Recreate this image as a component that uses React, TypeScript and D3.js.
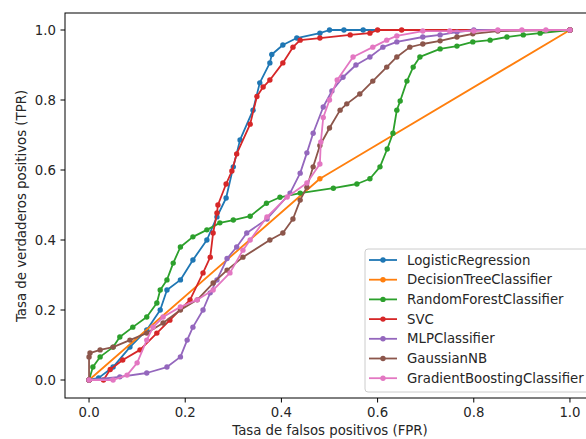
import * as d3 from 'd3';

// ROC points [fpr, tpr]
const logisticRegression: [number, number][] = [
  [0, 0], [0.02, 0.006], [0.05, 0.037], [0.085, 0.094], [0.12, 0.143], [0.148, 0.2],
  [0.162, 0.257], [0.19, 0.286], [0.216, 0.343], [0.245, 0.4], [0.266, 0.466], [0.285, 0.52],
  [0.3, 0.609], [0.314, 0.686], [0.341, 0.771], [0.355, 0.849], [0.376, 0.906], [0.38, 0.93],
  [0.403, 0.957], [0.432, 0.977], [0.48, 0.991], [0.5, 1.0], [0.53, 1.0], [0.57, 1.0], [1, 1],
];
const decisionTree: [number, number][] = [[0, 0], [0.48, 0.575], [1, 1]];
const randomForest: [number, number][] = [
  [0, 0], [0.008, 0.037], [0.023, 0.066], [0.05, 0.094], [0.064, 0.123], [0.091, 0.151],
  [0.12, 0.18], [0.141, 0.22], [0.148, 0.257], [0.162, 0.286], [0.175, 0.334], [0.19, 0.38],
  [0.216, 0.409], [0.245, 0.429], [0.272, 0.449], [0.3, 0.457], [0.335, 0.468], [0.369, 0.505],
  [0.397, 0.522], [0.439, 0.534], [0.508, 0.548], [0.557, 0.56], [0.584, 0.575], [0.605, 0.609],
  [0.62, 0.66], [0.632, 0.705], [0.64, 0.771], [0.647, 0.797], [0.661, 0.854], [0.674, 0.894],
  [0.688, 0.923], [0.73, 0.946], [0.765, 0.954], [0.798, 0.966], [0.834, 0.971], [0.869, 0.98],
  [0.903, 0.986], [0.938, 0.991], [1, 1],
];
const svc: [number, number][] = [
  [0, 0], [0.03, 0.0], [0.044, 0.03], [0.07, 0.057], [0.106, 0.086], [0.141, 0.134],
  [0.168, 0.171], [0.21, 0.229], [0.237, 0.306], [0.252, 0.351], [0.258, 0.42], [0.266, 0.477],
  [0.268, 0.5], [0.285, 0.56], [0.297, 0.597], [0.307, 0.646], [0.335, 0.731], [0.349, 0.81],
  [0.362, 0.837], [0.376, 0.857], [0.403, 0.906], [0.424, 0.951], [0.439, 0.971], [0.48, 0.977],
  [0.543, 0.986], [0.584, 0.991], [0.6, 1.0], [0.65, 1.0], [1, 1],
];
const mlp: [number, number][] = [
  [0, 0], [0.064, 0.009], [0.12, 0.02], [0.162, 0.037], [0.19, 0.066], [0.204, 0.114],
  [0.216, 0.151], [0.237, 0.2], [0.252, 0.249], [0.266, 0.286], [0.287, 0.347], [0.307, 0.38],
  [0.328, 0.42], [0.37, 0.46], [0.418, 0.534], [0.439, 0.591], [0.453, 0.649], [0.466, 0.705],
  [0.487, 0.78], [0.505, 0.826], [0.528, 0.865], [0.555, 0.9], [0.584, 0.923], [0.611, 0.951],
  [0.64, 0.966], [0.694, 0.98], [0.73, 0.986], [0.765, 0.994], [0.8, 1.0], [1, 1],
];
const gaussianNB: [number, number][] = [
  [0, 0], [0, 0.066], [0.002, 0.077], [0.023, 0.086], [0.05, 0.094], [0.085, 0.114],
  [0.12, 0.134], [0.154, 0.163], [0.19, 0.2], [0.225, 0.229], [0.258, 0.277], [0.287, 0.314],
  [0.32, 0.351], [0.376, 0.4], [0.403, 0.42], [0.424, 0.46], [0.439, 0.514], [0.453, 0.551],
  [0.466, 0.609], [0.48, 0.67], [0.5, 0.72], [0.522, 0.771], [0.536, 0.789], [0.563, 0.817],
  [0.59, 0.854], [0.619, 0.894], [0.64, 0.923], [0.667, 0.951], [0.694, 0.96], [0.73, 0.969],
  [0.765, 0.98], [0.798, 0.989], [0.85, 0.997], [1, 1],
];
const gradientBoosting: [number, number][] = [
  [0, 0], [0.05, 0], [0.079, 0.014], [0.1, 0.049], [0.12, 0.114], [0.133, 0.151],
  [0.154, 0.18], [0.19, 0.209], [0.225, 0.229], [0.258, 0.257], [0.293, 0.306], [0.32, 0.371],
  [0.335, 0.4], [0.37, 0.466], [0.412, 0.523], [0.453, 0.563], [0.48, 0.617], [0.482, 0.68],
  [0.487, 0.75], [0.5, 0.8], [0.516, 0.857], [0.549, 0.923], [0.59, 0.951], [0.619, 0.971],
  [0.64, 0.983], [0.694, 0.997], [0.75, 0.997], [0.8, 0.997], [0.85, 1.0], [0.9, 1.0],
  [0.95, 1.0], [1, 1],
];

const seriesNames = [
  'LogisticRegression', 'DecisionTreeClassifier', 'RandomForestClassifier', 'SVC',
  'MLPClassifier', 'GaussianNB', 'GradientBoostingClassifier',
];
const seriesData = [logisticRegression, decisionTree, randomForest, svc, mlp, gaussianNB, gradientBoosting];
const colors = ['#1f77b4', '#ff7f0e', '#2ca02c', '#d62728', '#9467bd', '#8c564b', '#e377c2'];
const ticks = [0, 0.2, 0.4, 0.6, 0.8, 1.0];

const W = 586;
const H = 439;
const font = 'DejaVu Sans, sans-serif';

export default function App() {
  const x = d3.scaleLinear().domain([-0.05, 1.05]).range([65, 594]);
  const y = d3.scaleLinear().domain([-0.05, 1.05]).range([397.5, 12.5]);
  const line = d3.line<[number, number]>().x(d => x(d[0])).y(d => y(d[1]));

  const legendX = 365;
  const legendY = 249;
  const rowH = 19.7;

  return (
    <svg width={W} height={H} style={{ position: 'absolute', left: 0, top: 0, background: '#fff' }}
      fontFamily={font} fontSize={13.3} fill="#262626">
      <defs>
        <clipPath id="plot">
          <rect x={65} y={12.5} width={529} height={385} />
        </clipPath>
      </defs>

      <g clipPath="url(#plot)">
        {seriesData.map((pts, i) => (
          <g key={seriesNames[i]}>
            <path d={line(pts) ?? ''} fill="none" stroke={colors[i]} strokeWidth={1.8} strokeLinejoin="round" />
            {pts.map((p, j) => (
              <circle key={j} cx={x(p[0])} cy={y(p[1])} r={2.7} fill={colors[i]} />
            ))}
          </g>
        ))}
      </g>

      {/* spines */}
      <rect x={65} y={13} width={529} height={385} fill="none" stroke="#000" strokeWidth={1} />

      {/* x axis */}
      {ticks.map(t => (
        <g key={'x' + t} transform={`translate(${x(t)},398)`}>
          <line y2={4.5} stroke="#000" />
          <text y={18.5} textAnchor="middle">{t.toFixed(1)}</text>
        </g>
      ))}
      {/* y axis */}
      {ticks.map(t => (
        <g key={'y' + t} transform={`translate(65,${y(t)})`}>
          <line x2={-4.5} stroke="#000" />
          <text x={-9} dy="0.35em" textAnchor="end">{t.toFixed(1)}</text>
        </g>
      ))}

      <text x={330} y={435} textAnchor="middle">Tasa de falsos positivos (FPR)</text>
      <text transform="translate(26,206) rotate(-90)" textAnchor="middle">Tasa de verdaderos positivos (TPR)</text>

      {/* legend */}
      <rect x={legendX} y={legendY} width={240} height={143} rx={3} fill="#fff" fillOpacity={0.8}
        stroke="#cccccc" strokeWidth={1} />
      {seriesNames.map((name, i) => {
        const cy = legendY + 11 + i * rowH;
        return (
          <g key={name}>
            <line x1={369} x2={397} y1={cy} y2={cy} stroke={colors[i]} strokeWidth={1.8} />
            <circle cx={383} cy={cy} r={2.7} fill={colors[i]} />
            <text x={407} y={cy} dy="0.35em">{name}</text>
          </g>
        );
      })}
    </svg>
  );
}
